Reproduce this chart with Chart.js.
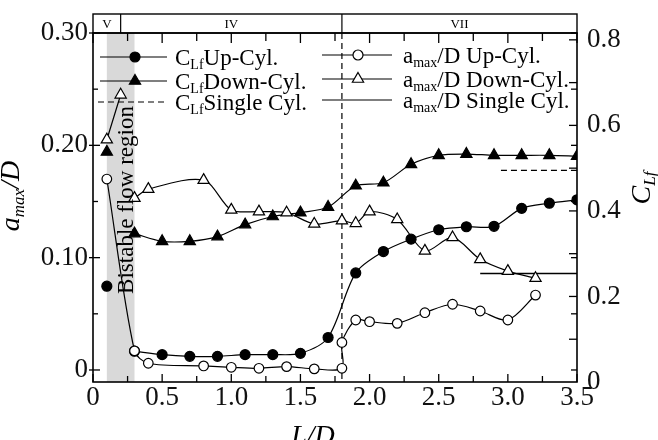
<!DOCTYPE html>
<html><head><meta charset="utf-8">
<script src="https://cdn.jsdelivr.net/npm/chart.js@4/dist/chart.umd.min.js"></script>
<style>html,body{margin:0;padding:0;background:#fff}#wrap{width:658px;height:440px}</style>
</head><body><div id="wrap"><canvas id="c" width="658" height="440"></canvas></div>
<script>
// ---------------- DATA ----------------
// a_max/D Up-Cyl. (open circles, left axis)
const ampUpX = [0.1, 0.3, 0.4, 0.8, 1.0, 1.2, 1.4, 1.6, 1.8, 1.8, 1.9, 2.0, 2.2, 2.4, 2.6, 2.8, 3.0, 3.2];
const ampUpY = [0.170, 0.017, 0.006, 0.0036, 0.0024, 0.0015, 0.003, 0.001, 0.0015, 0.0245, 0.0445, 0.043, 0.0415, 0.051, 0.0585, 0.0525, 0.0445, 0.0667];
// a_max/D Down-Cyl. (open triangles, left axis); null breaks the line
const ampDownX = [0.1, 0.2, 0.25, 0.3, 0.4, 0.8, 1.0, 1.2, 1.4, 1.6, 1.8, 1.9, 2.0, 2.2, 2.4, 2.6, 2.8, 3.0, 3.2];
const ampDownY = [0.205, 0.245, null, 0.153, 0.161, 0.169, 0.1425, 0.141, 0.140, 0.130, 0.133, 0.1306, 0.141, 0.134, 0.106, 0.118, 0.0985, 0.088, 0.0817];
// C_Lf Up-Cyl. (filled circles, right axis)
const clfUpX = [0.1, 0.2, 0.3, 0.5, 0.7, 0.9, 1.1, 1.3, 1.5, 1.7, 1.9, 2.1, 2.3, 2.5, 2.7, 2.9, 3.1, 3.3, 3.5];
const clfUpY = [0.224, null, 0.072, 0.064, 0.060, 0.060, 0.064, 0.064, 0.067, 0.104, 0.255, 0.305, 0.334, 0.356, 0.363, 0.364, 0.406, 0.418, 0.426];
// C_Lf Down-Cyl. (filled triangles, right axis)
const clfDownX = [0.1, 0.2, 0.3, 0.5, 0.7, 0.9, 1.1, 1.3, 1.5, 1.7, 1.9, 2.1, 2.3, 2.5, 2.7, 2.9, 3.1, 3.3, 3.5];
const clfDownY = [0.538, null, 0.347, 0.329, 0.329, 0.340, 0.368, 0.387, 0.396, 0.409, 0.459, 0.466, 0.509, 0.530, 0.533, 0.530, 0.530, 0.530, 0.528];
// Single cylinder reference levels
const ampSingleX = [2.8, 3.5];
const ampSingleY = [0.086, 0.086];
const clfSingleX = [2.95, 3.5];
const clfSingleY = [0.495, 0.495];
// Regions and ticks
const regionBounds = [0, 0.2, 1.8, 3.5];
const regionLabels = ['V', 'IV', 'VII'];
const bistableRange = [0.1, 0.3];
const bistableLabel = 'Bistable flow region';
const transitionX = 1.8;
const xTickValues = [0, 0.5, 1.0, 1.5, 2.0, 2.5, 3.0, 3.5];
const xTickLabels = ['0', '0.5', '1.0', '1.5', '2.0', '2.5', '3.0', '3.5'];
const yLTickValues = [0, 0.10, 0.20, 0.30];
const yLTickLabels = ['0', '0.10', '0.20', '0.30'];
const yRTickValues = [0, 0.2, 0.4, 0.6, 0.8];
const yRTickLabels = ['0', '0.2', '0.4', '0.6', '0.8'];

// ---------------- CHART ----------------
const fam = '"Liberation Serif", "Times New Roman", serif';
const pts = (xs, ys) => xs.map((x, i) => ({x: x, y: ys[i]}));

function richWidth(ctx, parts, size, sub, style) {
  let w = 0;
  for (const p of parts) {
    ctx.font = style + (p.s ? sub : size) + 'px ' + fam;
    w += ctx.measureText(p.t).width;
  }
  return w;
}
function richText(ctx, parts, x, y, size, sub, style, subShift) {
  let cx = x;
  ctx.textBaseline = 'alphabetic';
  ctx.textAlign = 'left';
  for (const p of parts) {
    ctx.font = style + (p.s ? sub : size) + 'px ' + fam;
    ctx.fillText(p.t, cx, y + (p.s ? subShift : 0));
    cx += ctx.measureText(p.t).width;
  }
}
function marker(ctx, style, filled, x, y, r) {
  ctx.save();
  ctx.beginPath();
  if (style === 'circle') {
    ctx.arc(x, y, r, 0, Math.PI * 2);
  } else {
    ctx.moveTo(x, y - r);
    ctx.lineTo(x + r * Math.sin(Math.PI * 2 / 3), y - r * Math.cos(Math.PI * 2 / 3));
    ctx.lineTo(x + r * Math.sin(Math.PI * 4 / 3), y - r * Math.cos(Math.PI * 4 / 3));
    ctx.closePath();
  }
  ctx.fillStyle = filled ? '#000' : '#fff';
  ctx.fill();
  ctx.lineWidth = 1.2;
  ctx.strokeStyle = '#000';
  ctx.stroke();
  ctx.restore();
}

const decor = {
  id: 'decor',
  beforeDatasetsDraw(chart) {
    const {ctx, chartArea: a, scales} = chart;
    const xs = scales.x;
    ctx.save();
    // bistable shading
    const x0 = xs.getPixelForValue(bistableRange[0]);
    const x1 = xs.getPixelForValue(bistableRange[1]);
    ctx.fillStyle = '#d9d9d9';
    ctx.fillRect(x0, a.top, x1 - x0, a.bottom - a.top);
    // transition dashed line
    const xt = xs.getPixelForValue(transitionX);
    ctx.strokeStyle = '#000';
    ctx.lineWidth = 1.2;
    ctx.setLineDash([6, 4]);
    ctx.beginPath();
    ctx.moveTo(xt, a.top);
    ctx.lineTo(xt, a.bottom);
    ctx.stroke();
    ctx.setLineDash([]);
    ctx.restore();
  },
  afterDatasetsDraw(chart) {
    const {ctx, chartArea: a, scales} = chart;
    const xs = scales.x;
    ctx.save();
    // bistable text
    const xc = (xs.getPixelForValue(bistableRange[0]) + xs.getPixelForValue(bistableRange[1])) / 2;
    ctx.translate(xc + 12, 200);
    ctx.rotate(-Math.PI / 2);
    ctx.font = '23px ' + fam;
    ctx.fillStyle = '#000';
    ctx.textAlign = 'center';
    ctx.textBaseline = 'alphabetic';
    ctx.fillText(bistableLabel, 0, 0);
    ctx.restore();
  },
  afterDraw(chart) {
    const {ctx, chartArea: a, scales} = chart;
    const xs = scales.x, yl = scales.yL, yr = scales.yR;
    ctx.save();
    ctx.strokeStyle = '#000';
    ctx.fillStyle = '#000';
    // frame
    ctx.lineWidth = 1.6;
    ctx.strokeRect(a.left, a.top, a.right - a.left, a.bottom - a.top);
    // region band
    const bandTop = 14;
    ctx.lineWidth = 1.4;
    ctx.strokeRect(a.left, bandTop, a.right - a.left, a.top - bandTop);
    ctx.lineWidth = 1.2;
    for (let i = 1; i < regionBounds.length - 1; i++) {
      const px = xs.getPixelForValue(regionBounds[i]);
      ctx.beginPath(); ctx.moveTo(px, bandTop); ctx.lineTo(px, a.top); ctx.stroke();
    }
    ctx.font = '13px ' + fam;
    ctx.textAlign = 'center';
    ctx.textBaseline = 'middle';
    for (let i = 0; i < regionLabels.length; i++) {
      const px = (xs.getPixelForValue(regionBounds[i]) + xs.getPixelForValue(regionBounds[i + 1])) / 2;
      ctx.fillText(regionLabels[i], px, (bandTop + a.top) / 2 + 1);
    }
    // ticks (inward)
    ctx.lineWidth = 1.3;
    const line = (x1, y1, x2, y2) => { ctx.beginPath(); ctx.moveTo(x1, y1); ctx.lineTo(x2, y2); ctx.stroke(); };
    for (let v = 0; v <= 3.5001; v += 0.25) {
      const px = xs.getPixelForValue(v);
      const major = Math.abs(v / 0.5 - Math.round(v / 0.5)) < 1e-6;
      const L = major ? 8 : 6;
      line(px, a.bottom, px, a.bottom - L);
      line(px, a.top, px, a.top + (major ? 10 : 8));
    }
    for (let v = 0; v <= 0.3001; v += 0.05) {
      const py = yl.getPixelForValue(v);
      const major = Math.abs(v / 0.1 - Math.round(v / 0.1)) < 1e-6;
      line(a.left - (major ? 4 : 0), py, a.left + (major ? 7 : 5), py);
      line(a.right, py, a.right - 6, py);
    }
    for (let v = 0.1; v <= 0.8001; v += 0.1) {
      const py = yr.getPixelForValue(v);
      line(a.right, py, a.right - 8, py);
    }
    // axis titles
    // x
    const xt = [{t: 'L/D'}];
    ctx.fillStyle = '#000';
    const wX = richWidth(ctx, xt, 28, 17, 'italic ');
    richText(ctx, xt, 313 - wX / 2, 444, 28, 17, 'italic ', 0);
    // left
    const lt = [{t: 'a'}, {t: 'max', s: 1}, {t: '/D'}];
    ctx.save();
    ctx.translate(19, 196);
    ctx.rotate(-Math.PI / 2);
    const wL = richWidth(ctx, lt, 28, 17, 'italic ');
    richText(ctx, lt, -wL / 2, 0, 28, 17, 'italic ', 5);
    ctx.restore();
    // right
    const rt = [{t: 'C'}, {t: 'Lf', s: 1}];
    ctx.save();
    ctx.translate(650, 188);
    ctx.rotate(-Math.PI / 2);
    const wR = richWidth(ctx, rt, 28, 17, 'italic ');
    richText(ctx, rt, -wR / 2, 0, 28, 17, 'italic ', 5);
    ctx.restore();
    // legend
    const legend = [
      {x0: 100, x1: 167, mx: 135, tx: 175, y: 57, st: 'circle', fill: true, dash: false, parts: [{t: 'C'}, {t: 'Lf', s: 1}, {t: 'Up-Cyl.'}]},
      {x0: 100, x1: 167, mx: 135, tx: 175, y: 81, st: 'triangle', fill: true, dash: false, parts: [{t: 'C'}, {t: 'Lf', s: 1}, {t: 'Down-Cyl.'}]},
      {x0: 98, x1: 167, mx: null, tx: 175, y: 102, st: null, fill: false, dash: true, parts: [{t: 'C'}, {t: 'Lf', s: 1}, {t: 'Single Cyl.'}]},
      {x0: 322, x1: 392, mx: 358, tx: 403, y: 55, st: 'circle', fill: false, dash: false, parts: [{t: 'a'}, {t: 'max', s: 1}, {t: '/D Up-Cyl.'}]},
      {x0: 322, x1: 392, mx: 358, tx: 403, y: 79, st: 'triangle', fill: false, dash: false, parts: [{t: 'a'}, {t: 'max', s: 1}, {t: '/D Down-Cyl.'}]},
      {x0: 322, x1: 392, mx: null, tx: 403, y: 100, st: null, fill: false, dash: false, parts: [{t: 'a'}, {t: 'max', s: 1}, {t: '/D Single Cyl.'}]}
    ];
    for (const it of legend) {
      ctx.lineWidth = 1.2;
      ctx.setLineDash(it.dash ? [6, 4] : []);
      line(it.x0, it.y, it.x1, it.y);
      ctx.setLineDash([]);
      if (it.st) marker(ctx, it.st, it.fill, it.mx, it.y, it.st === 'circle' ? 5 : 6.5);
      ctx.fillStyle = '#000';
      richText(ctx, it.parts, it.tx, it.y + 8, 23, 14, '', 4);
    }
    ctx.restore();
  }
};

const common = {borderColor: '#000', borderWidth: 1.2, tension: 0.3, spanGaps: false, pointBorderColor: '#000', pointBorderWidth: 1.2, pointHoverRadius: 0};

new Chart(document.getElementById('c'), {
  type: 'line',
  data: {
    datasets: [
      Object.assign({label: 'a_max/D Up-Cyl.', data: pts(ampUpX, ampUpY), yAxisID: 'yL', pointStyle: 'circle', pointRadius: 4.8, pointBackgroundColor: '#fff'}, common),
      Object.assign({label: 'a_max/D Down-Cyl.', data: pts(ampDownX, ampDownY), yAxisID: 'yL', pointStyle: 'triangle', pointRadius: 6.5, pointBackgroundColor: '#fff'}, common),
      Object.assign({label: 'C_Lf Up-Cyl.', data: pts(clfUpX, clfUpY), yAxisID: 'yR', pointStyle: 'circle', pointRadius: 5, pointBackgroundColor: '#000'}, common),
      Object.assign({label: 'C_Lf Down-Cyl.', data: pts(clfDownX, clfDownY), yAxisID: 'yR', pointStyle: 'triangle', pointRadius: 6.5, pointBackgroundColor: '#000'}, common),
      Object.assign({label: 'a_max/D Single Cyl.', data: pts(ampSingleX, ampSingleY), yAxisID: 'yL', pointRadius: 0}, common, {borderWidth: 1.5, tension: 0}),
      Object.assign({label: 'C_Lf Single Cyl.', data: pts(clfSingleX, clfSingleY), yAxisID: 'yR', pointRadius: 0, borderDash: [6, 4]}, common, {tension: 0})
    ]
  },
  options: {
    responsive: false,
    animation: false,
    devicePixelRatio: 1,
    layout: {padding: {top: 33, left: 0, right: 0, bottom: 0}},
    plugins: {legend: {display: false}, tooltip: {enabled: false}},
    scales: {
      x: {
        type: 'linear', position: 'bottom', min: 0, max: 3.5,
        grid: {display: false, drawTicks: false}, border: {display: false},
        afterBuildTicks: s => { s.ticks = xTickValues.map(v => ({value: v})); },
        afterFit: s => { s.height = 58; },
        ticks: {padding: 0, color: '#111', font: {family: fam, size: 27}, maxRotation: 0, autoSkip: false,
          callback: (v, i) => xTickLabels[i]}
      },
      yL: {
        type: 'linear', position: 'left', min: -0.0107, max: 0.30,
        grid: {display: false, drawTicks: false}, border: {display: false},
        afterBuildTicks: s => { s.ticks = yLTickValues.map(v => ({value: v})); },
        afterFit: s => { s.width = 93; },
        ticks: {padding: 5, color: '#111', font: {family: fam, size: 27}, autoSkip: false,
          callback: (v, i) => yLTickLabels[i]}
      },
      yR: {
        type: 'linear', position: 'right', min: 0, max: 0.816,
        grid: {display: false, drawTicks: false}, border: {display: false},
        afterBuildTicks: s => { s.ticks = yRTickValues.map(v => ({value: v})); },
        afterFit: s => { s.width = 81; },
        ticks: {padding: 10, color: '#111', font: {family: fam, size: 27}, autoSkip: false,
          callback: (v, i) => yRTickLabels[i]}
      }
    }
  },
  plugins: [decor]
});
</script></body></html>
